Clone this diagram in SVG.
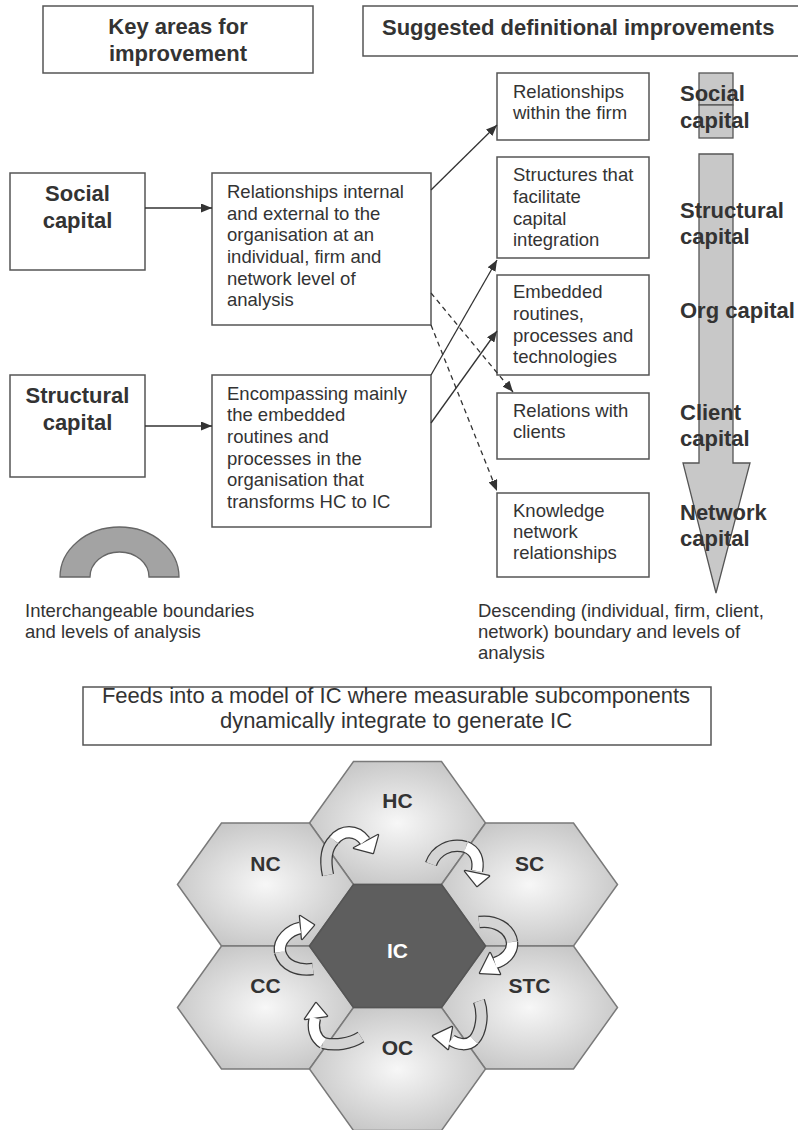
<svg xmlns="http://www.w3.org/2000/svg" width="798" height="1130" viewBox="0 0 798 1130">
<style>
text{font-family:"Liberation Sans",Arial,sans-serif;fill:#333}
.hd{font-size:22px;font-weight:bold}
.bd{font-size:18.5px}
.lb{font-size:22px;font-weight:bold}
.box{fill:#fff;stroke:#555;stroke-width:1.5}
.ln{fill:none;stroke:#333;stroke-width:1.3}
.dash{stroke-dasharray:5,4}
.hex{stroke:#7a7a7a;stroke-width:1.5;fill:url(#hg)}
.hl{font-size:21px;font-weight:bold;text-anchor:middle}
.ro{fill:none;stroke:#3a3a3a;stroke-width:12.5}
.rg{fill:none;stroke:#d4d4d4;stroke-width:10}
.rw{fill:none;stroke:#fff;stroke-width:10}
.ho{fill:#fff;stroke:#3a3a3a;stroke-width:2.5;stroke-linejoin:round}
.hf{fill:#fff}
.va{fill:#c8c8c8;stroke:#555;stroke-width:1.3}
</style>
<defs>
<marker id="ah" markerWidth="11" markerHeight="9" refX="11" refY="4.5" orient="auto" markerUnits="userSpaceOnUse"><path d="M0,0 L11,4.5 L0,9 Z" fill="#333"/></marker>
<radialGradient id="hg" cx="50%" cy="50%" r="60%"><stop offset="0" stop-color="#f7f7f7"/><stop offset="1" stop-color="#c2c2c2"/></radialGradient>
</defs>
<rect width="798" height="1130" fill="#fff"/>

<g id="hdr-key"><rect class="box" x="43" y="6" width="270" height="67"/><text class="hd" x="178" y="34" text-anchor="middle">Key areas for</text><text class="hd" x="178" y="61" text-anchor="middle">improvement</text></g>
<g id="hdr-sug"><rect class="box" x="363" y="6" width="440" height="50"/><text class="hd" x="382" y="35">Suggested definitional improvements</text></g>

<g id="social"><rect class="box" x="10" y="173" width="135" height="97"/><text class="lb" x="77.5" y="201" text-anchor="middle">Social</text><text class="lb" x="77.5" y="228" text-anchor="middle">capital</text></g>
<g id="structural"><rect class="box" x="10" y="375" width="135" height="102"/><text class="lb" x="77.5" y="403" text-anchor="middle">Structural</text><text class="lb" x="77.5" y="430" text-anchor="middle">capital</text></g>

<g id="rel-int"><rect class="box" x="212" y="173" width="219" height="152"/>
<text class="bd" x="227"><tspan x="227" y="198">Relationships internal</tspan><tspan x="227" y="220">and external to the</tspan><tspan x="227" y="241">organisation at an</tspan><tspan x="227" y="263">individual, firm and</tspan><tspan x="227" y="285">network level of</tspan><tspan x="227" y="306">analysis</tspan></text></g>
<g id="encomp"><rect class="box" x="212" y="375" width="219" height="152"/>
<text class="bd"><tspan x="227" y="400">Encompassing mainly</tspan><tspan x="227" y="421">the embedded</tspan><tspan x="227" y="443">routines and</tspan><tspan x="227" y="465">processes in the</tspan><tspan x="227" y="486">organisation that</tspan><tspan x="227" y="508">transforms HC to IC</tspan></text></g>

<g id="r-firm"><rect class="box" x="497" y="73" width="152" height="67"/><text class="bd"><tspan x="513" y="98">Relationships</tspan><tspan x="513" y="119">within the firm</tspan></text></g>
<g id="r-struct"><rect class="box" x="497" y="157" width="152" height="101"/><text class="bd"><tspan x="513" y="181">Structures that</tspan><tspan x="513" y="203">facilitate</tspan><tspan x="513" y="225">capital</tspan><tspan x="513" y="246">integration</tspan></text></g>
<g id="r-embed"><rect class="box" x="497" y="275" width="152" height="100"/><text class="bd"><tspan x="513" y="298">Embedded</tspan><tspan x="513" y="320">routines,</tspan><tspan x="513" y="342">processes and</tspan><tspan x="513" y="363">technologies</tspan></text></g>
<g id="r-client"><rect class="box" x="497" y="393" width="152" height="66"/><text class="bd"><tspan x="513" y="417">Relations with</tspan><tspan x="513" y="438">clients</tspan></text></g>
<g id="r-know"><rect class="box" x="497" y="493" width="152" height="84"/><text class="bd"><tspan x="513" y="517">Knowledge</tspan><tspan x="513" y="538">network</tspan><tspan x="513" y="559">relationships</tspan></text></g>

<g id="levels-arrow">
<rect class="va" x="699" y="73" width="34" height="32"/>
<rect class="va" x="699" y="105" width="34" height="33"/>
<path class="va" d="M699,154 L733,154 L733,463 L750,463 L716,593 L683,463 L699,463 Z"/>
<text class="lb"><tspan x="680" y="101">Social</tspan><tspan x="680" y="128">capital</tspan></text>
<text class="lb"><tspan x="680" y="218">Structural</tspan><tspan x="680" y="244">capital</tspan></text>
<text class="lb" x="680" y="318">Org capital</text>
<text class="lb"><tspan x="680" y="420">Client</tspan><tspan x="680" y="446">capital</tspan></text>
<text class="lb"><tspan x="680" y="520">Network</tspan><tspan x="680" y="546">capital</tspan></text>
</g>

<g id="half-ring"><path d="M60,577 A59.5,50 0 0 1 179,577 L149,577 A29.5,25 0 0 0 90,577 Z" fill="#a3a3a3" stroke="#666" stroke-width="1.3"/>
<text class="bd"><tspan x="25" y="617">Interchangeable boundaries</tspan><tspan x="25" y="638">and levels of analysis</tspan></text></g>
<g id="desc-caption"><text class="bd"><tspan x="478" y="617">Descending (individual, firm, client,</tspan><tspan x="478" y="638">network) boundary and levels of</tspan><tspan x="478" y="659">analysis</tspan></text></g>

<g id="connectors">
<path class="ln" d="M145,208 L212,208" marker-end="url(#ah)"/>
<path class="ln" d="M145,426 L212,426" marker-end="url(#ah)"/>
<path class="ln" d="M431,190 L497,125" marker-end="url(#ah)"/>
<path class="ln" d="M431,375 L497,260" marker-end="url(#ah)"/>
<path class="ln" d="M431,423 L497,331" marker-end="url(#ah)"/>
<path class="ln dash" d="M431,293 L513,392" marker-end="url(#ah)"/>
<path class="ln dash" d="M431,325 L497,491" marker-end="url(#ah)"/>
</g>

<g id="feeds"><rect class="box" x="83" y="687" width="628" height="58"/><text font-size="22" text-anchor="middle"><tspan x="396" y="703">Feeds into a model of IC where measurable subcomponents</tspan><tspan x="396" y="728">dynamically integrate to generate IC</tspan></text></g>

<g id="hex-HC"><polygon class="hex" points="309.5,823 353.5,761.5 441.5,761.5 485.5,823 441.5,884.5 353.5,884.5"/><text class="hl" x="397.5" y="808">HC</text></g>
<g id="hex-NC"><polygon class="hex" points="177.5,884.5 221.5,823 309.5,823 353.5,884.5 309.5,946 221.5,946"/><text class="hl" x="265.5" y="871">NC</text></g>
<g id="hex-SC"><polygon class="hex" points="441.5,884.5 485.5,823 573.5,823 617.5,884.5 573.5,946 485.5,946"/><text class="hl" x="529.5" y="871">SC</text></g>
<g id="hex-CC"><polygon class="hex" points="177.5,1007.5 221.5,946 309.5,946 353.5,1007.5 309.5,1069 221.5,1069"/><text class="hl" x="265.5" y="993">CC</text></g>
<g id="hex-STC"><polygon class="hex" points="441.5,1007.5 485.5,946 573.5,946 617.5,1007.5 573.5,1069 485.5,1069"/><text class="hl" x="529.5" y="993">STC</text></g>
<g id="hex-OC"><polygon class="hex" points="309.5,1069 353.5,1007.5 441.5,1007.5 485.5,1069 441.5,1130.5 353.5,1130.5"/><text class="hl" x="397.5" y="1055">OC</text></g>
<g id="hex-IC"><polygon points="309.5,946 353.5,884.5 441.5,884.5 485.5,946 441.5,1007.5 353.5,1007.5" fill="#5e5e5e" stroke="#555" stroke-width="1.5"/><text class="hl" x="397.5" y="958" style="fill:#fff">IC</text></g>

<g id="cycle-arrows">
<g id="ca1"><path class="ro" d="M328,875 C325,861 326,848 334,840"/><path class="ro" d="M334,840 C342,830 356,829 365,841"/><polygon class="ho" points="354,848 378,835 373,853"/><path class="rg" d="M328,875 C325,861 326,848 334,840"/><path class="rw" d="M334,840 C342,830 356,829 365,841"/><polygon class="hf" points="354,848 378,835 373,853"/></g>
<g id="ca2"><path class="ro" d="M431,864 C436,850 450,843 466,847"/><path class="ro" d="M466,847 C476,851 479,860 477,871"/><polygon class="ho" points="465,871 489,876 477,886"/><path class="rg" d="M431,864 C436,850 450,843 466,847"/><path class="rw" d="M466,847 C476,851 479,860 477,871"/><polygon class="hf" points="465,871 489,876 477,886"/></g>
<g id="ca3"><path class="ro" d="M479,922 C495,920 510,928 512,942"/><path class="ro" d="M512,942 C513,952 505,960 495,963"/><polygon class="ho" points="490,953 500,974 480,973"/><path class="rg" d="M479,922 C495,920 510,928 512,942"/><path class="rw" d="M512,942 C513,952 505,960 495,963"/><polygon class="hf" points="490,953 500,974 480,973"/></g>
<g id="ca4"><path class="ro" d="M479,1001 C484,1015 481,1032 474,1040"/><path class="ro" d="M474,1040 C468,1046 458,1045 451,1040"/><polygon class="ho" points="452,1027 448,1049 433,1036"/><path class="rg" d="M479,1001 C484,1015 481,1032 474,1040"/><path class="rw" d="M474,1040 C468,1046 458,1045 451,1040"/><polygon class="hf" points="452,1027 448,1049 433,1036"/></g>
<g id="ca5"><path class="ro" d="M361,1037 C350,1044 335,1046 323,1043"/><path class="ro" d="M323,1043 C315,1038 312,1028 315,1018"/><polygon class="ho" points="305,1019 327,1016 316,1003"/><path class="rg" d="M361,1037 C350,1044 335,1046 323,1043"/><path class="rw" d="M323,1043 C315,1038 312,1028 315,1018"/><polygon class="hf" points="305,1019 327,1016 316,1003"/></g>
<g id="ca6"><path class="ro" d="M313,969 C298,971 284,966 280,952"/><path class="ro" d="M280,952 C278,940 290,930 300,928"/><polygon class="ho" points="300,916 302,939 314,925"/><path class="rg" d="M313,969 C298,971 284,966 280,952"/><path class="rw" d="M280,952 C278,940 290,930 300,928"/><polygon class="hf" points="300,916 302,939 314,925"/></g>
</g>
</svg>
